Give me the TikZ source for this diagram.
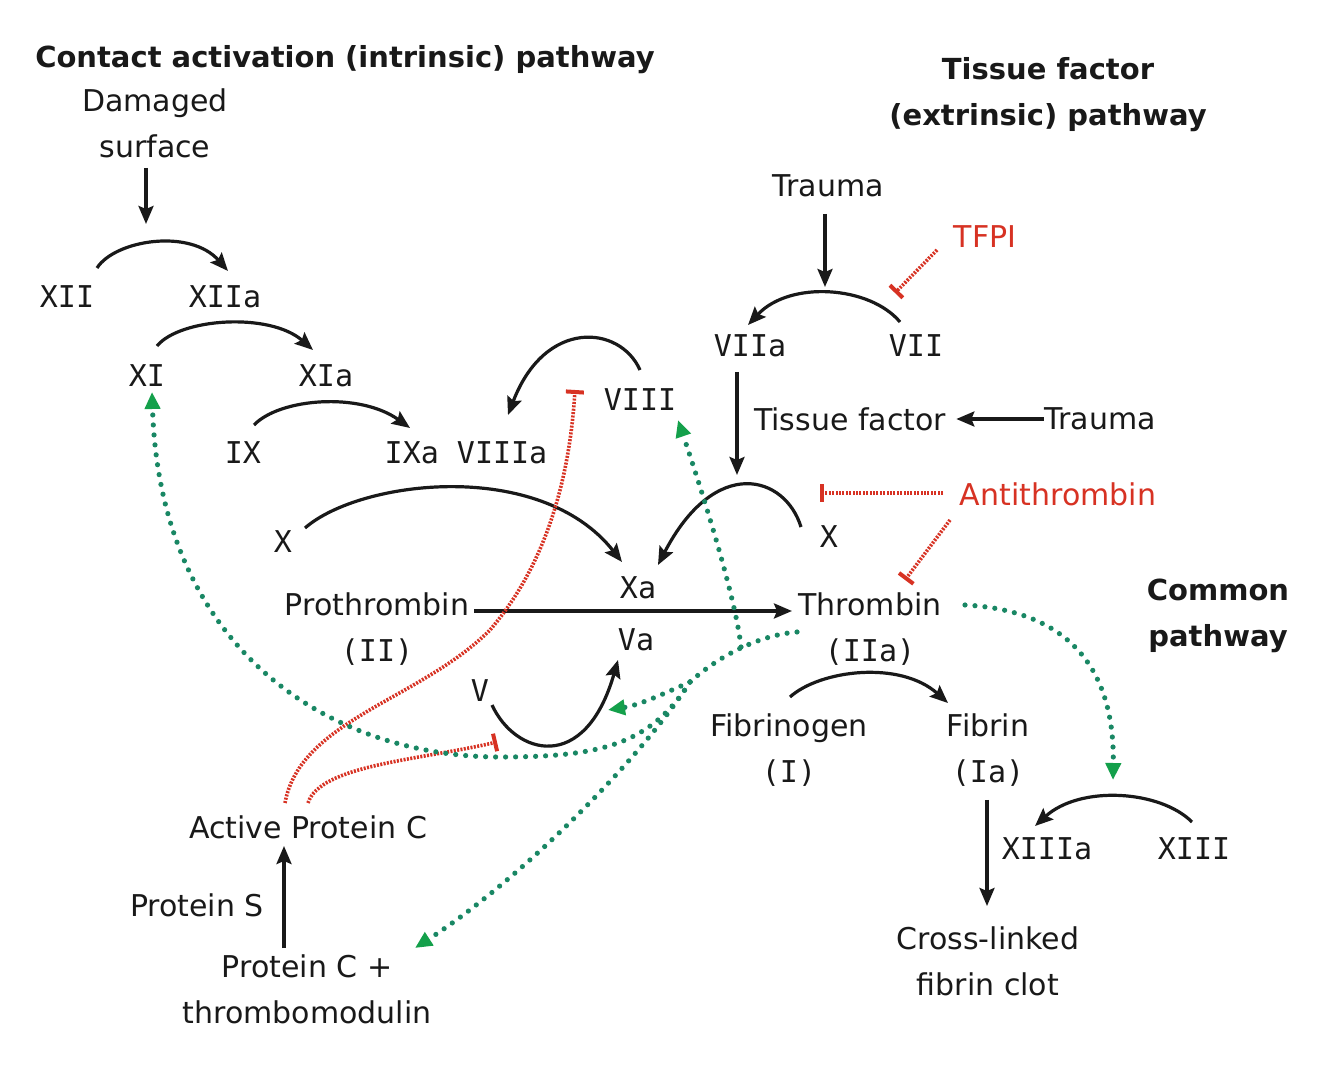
\documentclass[tikz,border=0pt]{standalone}
\usepackage{fontspec}
\setmainfont{DejaVu Sans}
\newfontfamily\rnf{DejaVu Sans Mono}
\usetikzlibrary{arrows.meta}
\definecolor{inhred}{RGB}{215,50,35}
\definecolor{gdot}{RGB}{25,135,100}
\definecolor{garrow}{RGB}{20,160,75}
\definecolor{ink}{RGB}{25,25,25}
\begin{document}
\begin{tikzpicture}[x=0.5pt,y=-0.5pt,
  txt/.style={font=\fontsize{15}{23}\selectfont, align=center, inner sep=0pt, text=ink},
  rnum/.style={font=\rnf\fontsize{15}{23}\selectfont, align=center, inner sep=0pt, text=ink},
  hdr/.style={font=\bfseries\fontsize{14.5}{23}\selectfont, align=center, inner sep=0pt, text=ink},
  rtxt/.style={txt, text=inhred},
  arr/.style={draw=ink, line width=1.6pt, -{Stealth[length=9pt,width=7.5pt,inset=1.5pt]}},
  inh/.style={draw=inhred, line width=1.8pt, dash pattern=on 1pt off 0.7pt, -{Bar[width=9pt,line width=2pt]}},
  act/.style={draw=gdot, line width=2.6pt, line cap=round, dash pattern=on 0pt off 5pt},
  acth/.style={act, -{Triangle[length=8.5pt,width=7.5pt,color=garrow]}},
]
\fill[white] (0,0) rectangle (1334,1090);
\useasboundingbox (0,0) rectangle (1334,1090);

% headers
\node[hdr] (h1) at (345,60) {Contact activation (intrinsic) pathway};
\node[hdr] (h2) at (1048,95) {Tissue factor\\(extrinsic) pathway};
\node[hdr] (h3) at (1218,616) {Common\\pathway};

% nodes
\node[txt] (dam) at (155,123) {Damaged\\surface};
\node[rnum] (xii) at (67,297) {XII};
\node[rnum] (xiia) at (225,297) {XIIa};
\node[rnum] (xi) at (147,376) {XI};
\node[rnum] (xia) at (326,376) {XIa};
\node[rnum] (ix) at (243,453) {IX};
\node[rnum] (ixa) at (466,453) {IXa VIIIa};
\node[rnum] (viii) at (640,400) {VIII};
\node[rnum] (xl) at (283,542) {X};
\node[rnum] (xa) at (638,588) {Xa};
\node[txt] (pro) at (377,629) {Prothrombin\\{\rnf (II)}};
\node[rnum] (va) at (636,640) {Va};
\node[rnum] (v) at (480,691) {V};
\node[txt] (thr) at (870,629) {Thrombin\\{\rnf (IIa)}};
\node[txt] (fgn) at (789,750) {Fibrinogen\\{\rnf (I)}};
\node[txt] (fbn) at (988,750) {Fibrin\\{\rnf (Ia)}};
\node[rnum] (xiiia) at (1047,849) {XIIIa};
\node[rnum] (xiii) at (1194,849) {XIII};
\node[txt] (clot) at (988,961) {Cross-linked\\fibrin clot};
\node[txt] (tr1) at (828,186) {Trauma};
\node[rtxt] (tfpi) at (985,237) {TFPI};
\node[rnum] (viia) at (750,346) {VIIa};
\node[rnum] (vii) at (916,346) {VII};
\node[txt] (tf) at (850,419) {Tissue factor};
\node[txt] (tr2) at (1100,419) {Trauma};
\node[rtxt] (at) at (1058,494) {Antithrombin};
\node[rnum] (xr) at (829,537) {X};
\node[txt] (apc) at (308,827) {Active Protein C};
\node[txt] (ps) at (197,905) {Protein S};
\node[txt] (pct) at (307,989) {Protein C +\\thrombomodulin};

% free ends
\coordinate (dsend) at (146,224);
\coordinate (viiaend) at (737,475);
\coordinate (tr1end) at (825,287);
\coordinate (tfpiend) at (895,293);
\coordinate (atend) at (820,493);
\coordinate (apcvend) at (497,742);
\coordinate (gj) at (690,682);
\coordinate (gv) at (741,647);

% black arrows
\draw[arr] ([shift={(-9,45)}]dam.center) -- (dsend);
\draw[arr] ([shift={(30,-29)}]xii.center) .. controls (115,240) and (190,228) .. ([shift={(3,-26)}]xiia.center);
\draw[arr] ([shift={(10,-30)}]xi.center) .. controls (180,318) and (270,312) .. ([shift={(-13,-26)}]xia.center);
\draw[arr] ([shift={(11,-28)}]ix.center) .. controls (280,398) and (360,392) .. ([shift={(-56,-25)}]ixa.center);
\draw[arr] ([shift={(0,-30)}]viii.center) .. controls (620,325) and (545,318) .. ([shift={(42,-38)}]ixa.center);
\draw[arr] ([shift={(22,-14)}]xl.center) .. controls (360,480) and (540,458) .. ([shift={(-16,-26)}]xa.center);
\draw[arr] ([shift={(-13,26)}]viia.center) -- (viiaend);
\draw[arr] ([shift={(-28,-10)}]xr.center) .. controls (785,475) and (715,455) .. ([shift={(20,-23)}]xa.center);
\draw[arr] ([shift={(-3,28)}]tr1.center) -- (tr1end);
\draw[arr] ([shift={(-16,-24)}]vii.center) .. controls (870,286) and (790,280) .. ([shift={(-2,-21)}]viia.center);
\draw[arr] (tr2.west) -- ([xshift=5]tf.east);
\draw[arr] ([shift={(97,-18)}]pro.center) -- ([shift={(-78,-18)}]thr.center);
\draw[arr] ([shift={(12,14)}]v.center) .. controls (515,755) and (585,775) .. ([shift={(-18,20)}]va.center);
\draw[arr] ([shift={(1,-53)}]fgn.center) .. controls (820,670) and (900,660) .. ([shift={(-40,-47)}]fbn.center);
\draw[arr] ([shift={(-1,50)}]fbn.center) -- ([shift={(-1,-55)}]clot.center);
\draw[arr] ([shift={(-2,-27)}]xiii.center) .. controls (1160,790) and (1080,785) .. ([shift={(-12,-23)}]xiiia.center);
\draw[arr] ([shift={(-23,-41)}]pct.center) -- ([shift={(-24,19)}]apc.center);

% red inhibitions
\draw[inh] ([shift={(-48,13)}]tfpi.center) -- (tfpiend);
\draw[inh] ([shift={(-115,-1)}]at.center) -- (atend);
\draw[inh] ([shift={(-108,26)}]at.center) -- ([shift={(35,-49)}]thr.center);
\draw[inh] ([shift={(-23,-24)}]apc.center) .. controls (300,720) and (420,700) .. (490,630) .. controls (550,560) and (570,470) .. ([shift={(-65,-10)}]viii.center);
\draw[inh] ([shift={(0,-24)}]apc.center) .. controls (320,765) and (420,760) .. (apcvend);

% green activations from thrombin
\draw[act] ([shift={(-73,3)}]thr.center) .. controls (760,635) and (720,655) .. (gj);
\draw[acth] (gv) .. controls (736,600) and (705,500) .. ([shift={(38,20)}]viii.center);
\draw[acth] (gj) .. controls (665,693) and (640,705) .. ([shift={(-28,70)}]va.center);
\draw[acth] (gj) .. controls (650,745) and (600,757) .. (500,757) .. controls (330,757) and (160,650) .. ([shift={(5,16)}]xi.center);
\draw[acth] (gj) .. controls (640,760) and (520,880) .. ([shift={(108,-41)}]pct.center);
\draw[acth] ([shift={(95,-24)}]thr.center) .. controls (1060,610) and (1115,660) .. ([shift={(66,-69)}]xiiia.center);
\end{tikzpicture}
\end{document}
